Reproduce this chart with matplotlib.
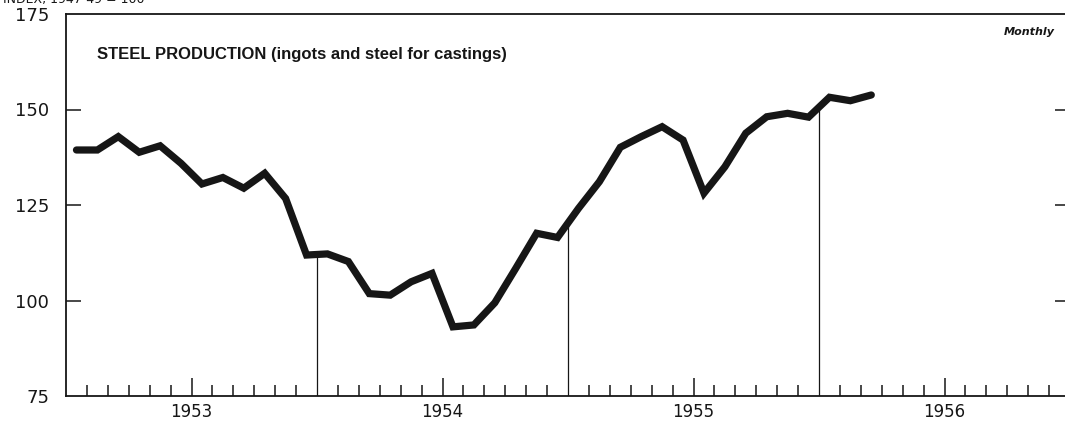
import numpy as np
import matplotlib.pyplot as plt

# monthly index values, Jan 1953 - Mar 1956 (1947-49 = 100)
years = [1953, 1954, 1955, 1956]
steel_index = [
    139.4, 139.4, 142.9, 138.8, 140.5, 135.9, 130.5, 132.2, 129.4, 133.3, 126.7, 111.9,
    112.2, 110.2, 101.8, 101.4, 104.9, 107.1, 93.1, 93.6, 99.4, 108.4, 117.6, 116.5,
    124.1, 131.1, 140.1, 142.9, 145.5, 142.0, 128.1, 135.0, 143.8, 148.1, 149.0, 148.0,
    153.2, 152.3, 153.8,
]
y_ticks = [75, 100, 125, 150, 175]

dates = 1953 + (np.arange(len(steel_index)) + 0.5) / 12.0

fig = plt.figure(figsize=(10.65, 4.24), dpi=100)
ax = fig.add_axes([66 / 1065, 1 - 396 / 424, 1004 / 1065, 382 / 424])
ink = '#161616'

ax.plot(dates, steel_index, color=ink, lw=5.2, solid_joinstyle='miter', solid_capstyle='round')

# thin verticals at each new year up to the curve
for yr in years[1:]:
    ax.vlines(yr, 75, np.interp(yr, dates, steel_index), color=ink, lw=0.9)

ax.set_xlim(1953.0, 1957.0)
ax.set_ylim(75, 175)

ax.spines['right'].set_visible(False)
for s in ['left', 'bottom', 'top']:
    ax.spines[s].set_color(ink)
    ax.spines[s].set_linewidth(1.3)

# x: year labels at mid-year, month ticks in between
ax.set_xticks([y + 0.5 for y in years])
ax.set_xticklabels([str(y) for y in years])
minor = [y + m / 12.0 for y in years for m in range(1, 12) if m != 6]
ax.set_xticks(minor, minor=True)
ax.tick_params(axis='x', which='major', direction='in', length=13, width=1.1,
               color=ink, labelsize=12, pad=5, labelcolor=ink)
ax.tick_params(axis='x', which='minor', direction='in', length=8, width=1.1, color=ink)

ax.set_yticks(y_ticks)
ax.set_yticklabels([str(v) for v in y_ticks])
ax.tick_params(axis='y', which='major', direction='in', length=11, width=1.1,
               color=ink, labelsize=13, pad=12, labelcolor=ink, right=True)
for t in ax.yaxis.get_major_ticks():
    if t.get_loc() in (75, 175):
        t.tick1line.set_visible(False)
        t.tick2line.set_visible(False)

ax.text(0.031, 0.895, 'STEEL PRODUCTION (ingots and steel for castings)', transform=ax.transAxes,
        fontsize=12, fontweight='bold', family='Liberation Sans', color=ink, va='center', ha='left')
ax.text(0.985, 0.953, 'Monthly', transform=ax.transAxes, fontsize=8, fontweight='bold',
        style='italic', color=ink, va='center', ha='right')
fig.text(0.003, 1.0, 'INDEX, 1947-49 = 100', fontsize=9, color=ink, va='center', ha='left')

fig.savefig('out.png', dpi=100)
